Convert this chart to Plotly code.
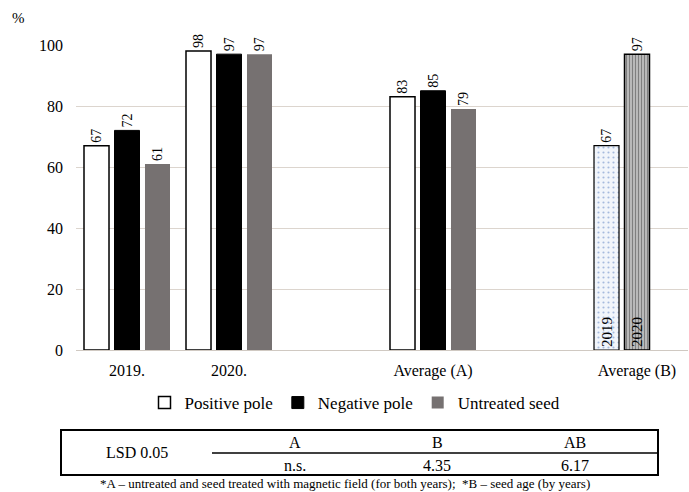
import plotly.graph_objects as go

# ---- data ----
categories = ["2019.", "2020.", " ", "Average (A)", "  ", "Average (B)"]
group_categories = ["2019.", "2020.", "Average (A)"]
positive_pole = [67, 98, 83]
negative_pole = [72, 97, 85]
untreated_seed = [61, 97, 79]
age_category = "Average (B)"
age_years = ["2019", "2020"]
age_values = [67, 97]
y_ticks = [0, 20, 40, 60, 80, 100]
lsd_label = "LSD 0.05"
lsd_headers = ["A", "B", "AB"]
lsd_values = ["n.s.", "4.35", "6.17"]
footnote = "*A \u2013 untreated and seed treated with magnetic field (for both years);  *B \u2013 seed age (by years)"

# ---- layout geometry (pixels) ----
W, H = 689, 492
L, R, T, B = 76, 688, 45, 350
FONT = "Liberation Serif"

def px(x):
    return (x - L) / (R - L)

def py(y):
    return (B - y) / (B - T)

fig = go.Figure()

common = dict(textposition="outside", textangle=-90, constraintext="none",
              cliponaxis=False, textfont=dict(family=FONT, size=14, color="black"))

fig.add_trace(go.Bar(name="Positive pole", x=group_categories, y=positive_pole,
                     text=positive_pole, offsetgroup="g1",
                     marker=dict(color="white", line=dict(color="black", width=1.5)),
                     **common))
fig.add_trace(go.Bar(name="Negative pole", x=group_categories, y=negative_pole,
                     text=negative_pole, offsetgroup="g2",
                     marker=dict(color="black", line=dict(color="black", width=1)),
                     **common))
fig.add_trace(go.Bar(name="Untreated seed", x=group_categories, y=untreated_seed,
                     text=untreated_seed, offsetgroup="g3",
                     marker=dict(color="#767171", line=dict(width=0)),
                     **common))

# seed-age bars
fig.add_trace(go.Bar(x=[age_category], y=[age_values[0]], text=[age_values[0]],
                     offsetgroup="g1", showlegend=False,
                     marker=dict(color="#f1f5fb", line=dict(color="black", width=1.2),
                                 pattern=dict(shape=".", fgcolor="#5a7fc0", bgcolor="#f1f5fb",
                                              size=5, solidity=0.15)),
                     **common))
fig.add_trace(go.Bar(x=[age_category], y=[age_values[1]], text=[age_values[1]],
                     offsetgroup="g2", showlegend=False,
                     marker=dict(color="white", line=dict(color="black", width=1.5),
                                 pattern=dict(shape="|", fgcolor="black", bgcolor="white",
                                              size=3, solidity=0.7)),
                     **common))
# year labels inside the seed-age bars
for yr, val, og in zip(age_years, age_values, ["g1", "g2"]):
    fig.add_trace(go.Bar(x=[age_category], y=[val], text=[yr], offsetgroup=og,
                         showlegend=False, hoverinfo="skip",
                         marker=dict(color="rgba(0,0,0,0)", line=dict(width=0)),
                         textposition="inside", insidetextanchor="start", textangle=-90,
                         constraintext="none",
                         textfont=dict(family=FONT, size=15, color="black")))

fig.update_layout(
    width=W, height=H,
    margin=dict(l=L, r=W - R, t=T, b=H - B),
    paper_bgcolor="white", plot_bgcolor="white",
    barmode="group", bargap=0.103, bargroupgap=0.18,
    font=dict(family=FONT, size=16, color="black"),
    showlegend=True,
    legend=dict(orientation="h", x=px(355), xanchor="center", y=py(403), yanchor="middle",
                font=dict(family=FONT, size=17, color="black"),
                itemwidth=30, tracegroupgap=0, bgcolor="rgba(0,0,0,0)"),
    xaxis=dict(type="category", categoryorder="array", categoryarray=categories,
               showgrid=False, showline=True, linecolor="#d0c9c2", linewidth=1,
               ticks="", tickfont=dict(family=FONT, size=16), ticklabelstandoff=6),
    yaxis=dict(range=[0, 100], tickvals=y_ticks, showgrid=True, gridcolor="#dcd5ce",
               gridwidth=1, zeroline=False, showline=False, ticks="",
               tickfont=dict(family=FONT, size=16), ticklabelstandoff=12),
)

def note(x, y, text, size=16):
    return dict(x=px(x), y=py(y), xref="paper", yref="paper", text=text, showarrow=False,
                xanchor="center", yanchor="middle", font=dict(family=FONT, size=size))

ann = [note(18, 18, "%", 15)]

# LSD table
shapes = []
tx0, tx1, ty0, ty1 = 61, 658, 430, 475
ymid = 453
shapes.append(dict(type="rect", xref="paper", yref="paper", x0=px(tx0), x1=px(tx1),
                   y0=py(ty1), y1=py(ty0), line=dict(color="black", width=2)))
shapes.append(dict(type="line", xref="paper", yref="paper", x0=px(212), x1=px(tx1),
                   y0=py(ymid), y1=py(ymid), line=dict(color="black", width=1.5)))
ann.append(note(137, 452, lsd_label))
col_x = [295, 437, 575]
for cx, h, v in zip(col_x, lsd_headers, lsd_values):
    ann.append(note(cx, 442, h))
    ann.append(note(cx, 465, v))
ann.append(note(345, 483, footnote, 13))

fig.update_layout(annotations=ann, shapes=shapes)

fig.write_html("out.html", config={"displayModeBar": False},
               post_script="document.body.style.margin='0';")
